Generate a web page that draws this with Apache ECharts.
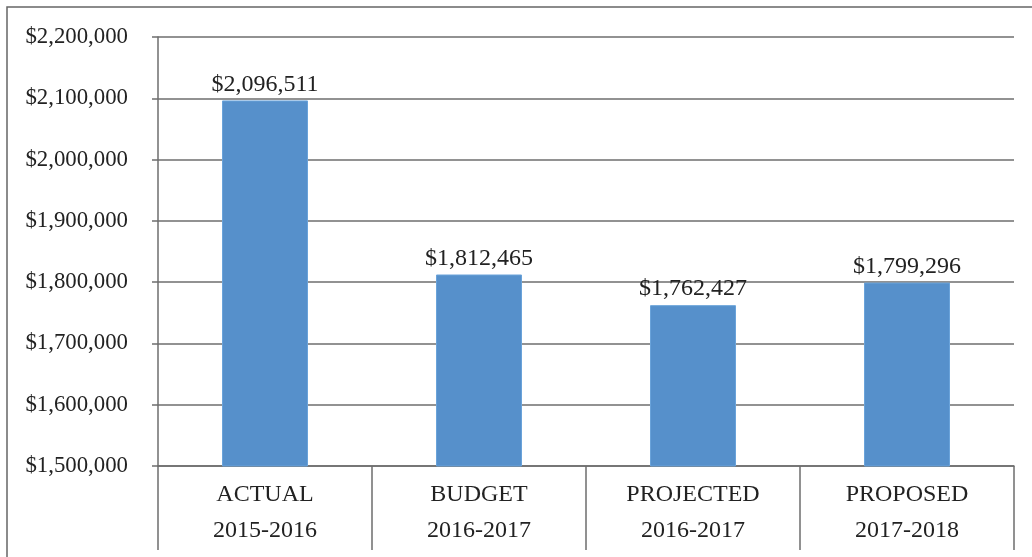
<!DOCTYPE html>
<html>
<head>
<meta charset="utf-8">
<script src="https://cdn.jsdelivr.net/npm/echarts@6/dist/echarts.min.js"></script>
<style>
html,body{margin:0;padding:0;background:#fff;}
#chart{width:1032px;height:557px;}
</style>
</head>
<body>
<div id="chart"></div>
<script>
var categories = ['ACTUAL\n2015-2016', 'BUDGET\n2016-2017', 'PROJECTED\n2016-2017', 'PROPOSED\n2017-2018'];
var values = [2096511, 1812465, 1762427, 1799296];
var yMin = 1500000, yMax = 2200000, yStep = 100000;

function money(v){ return '$' + Number(v).toLocaleString('en-US'); }

var font = '"Liberation Serif","Times New Roman",serif';
var chart = echarts.init(document.getElementById('chart'));
chart.setOption({
  backgroundColor: '#fff',
  animation: false,
  graphic: [{
    type: 'rect',
    shape: {x: 7, y: 7, width: 1100, height: 700},
    style: {fill: 'none', stroke: '#666', lineWidth: 1.5},
    silent: true
  }],
  grid: {left: 158, right: 18, top: 37, bottom: 91},
  xAxis: {
    type: 'category',
    data: categories,
    axisLine: {show: true, lineStyle: {color: '#6e6e6e', width: 1.5}},
    axisTick: {show: true, length: 84, interval: 0, lineStyle: {color: '#6e6e6e', width: 1.5}},
    axisLabel: {margin: 11, interval: 0, fontFamily: font, fontSize: 24, color: '#222', lineHeight: 36}
  },
  yAxis: {
    type: 'value',
    min: yMin, max: yMax, interval: yStep,
    axisLine: {show: true, lineStyle: {color: '#6e6e6e', width: 1.5}},
    axisTick: {show: true, length: 6, lineStyle: {color: '#6e6e6e', width: 1.5}},
    splitLine: {show: true, lineStyle: {color: '#6e6e6e', width: 1.5}},
    axisLabel: {margin: 30, fontFamily: font, fontSize: 22.8, color: '#222', formatter: money}
  },
  series: [{
    type: 'bar',
    data: values,
    barWidth: 86,
    itemStyle: {color: '#5690cb', borderColor: '#6aa3da', borderWidth: 1},
    label: {show: true, position: 'top', distance: 4, fontFamily: font, fontSize: 24, color: '#222', formatter: function(p){ return money(p.value); }}
  }]
});
</script>
</body>
</html>
